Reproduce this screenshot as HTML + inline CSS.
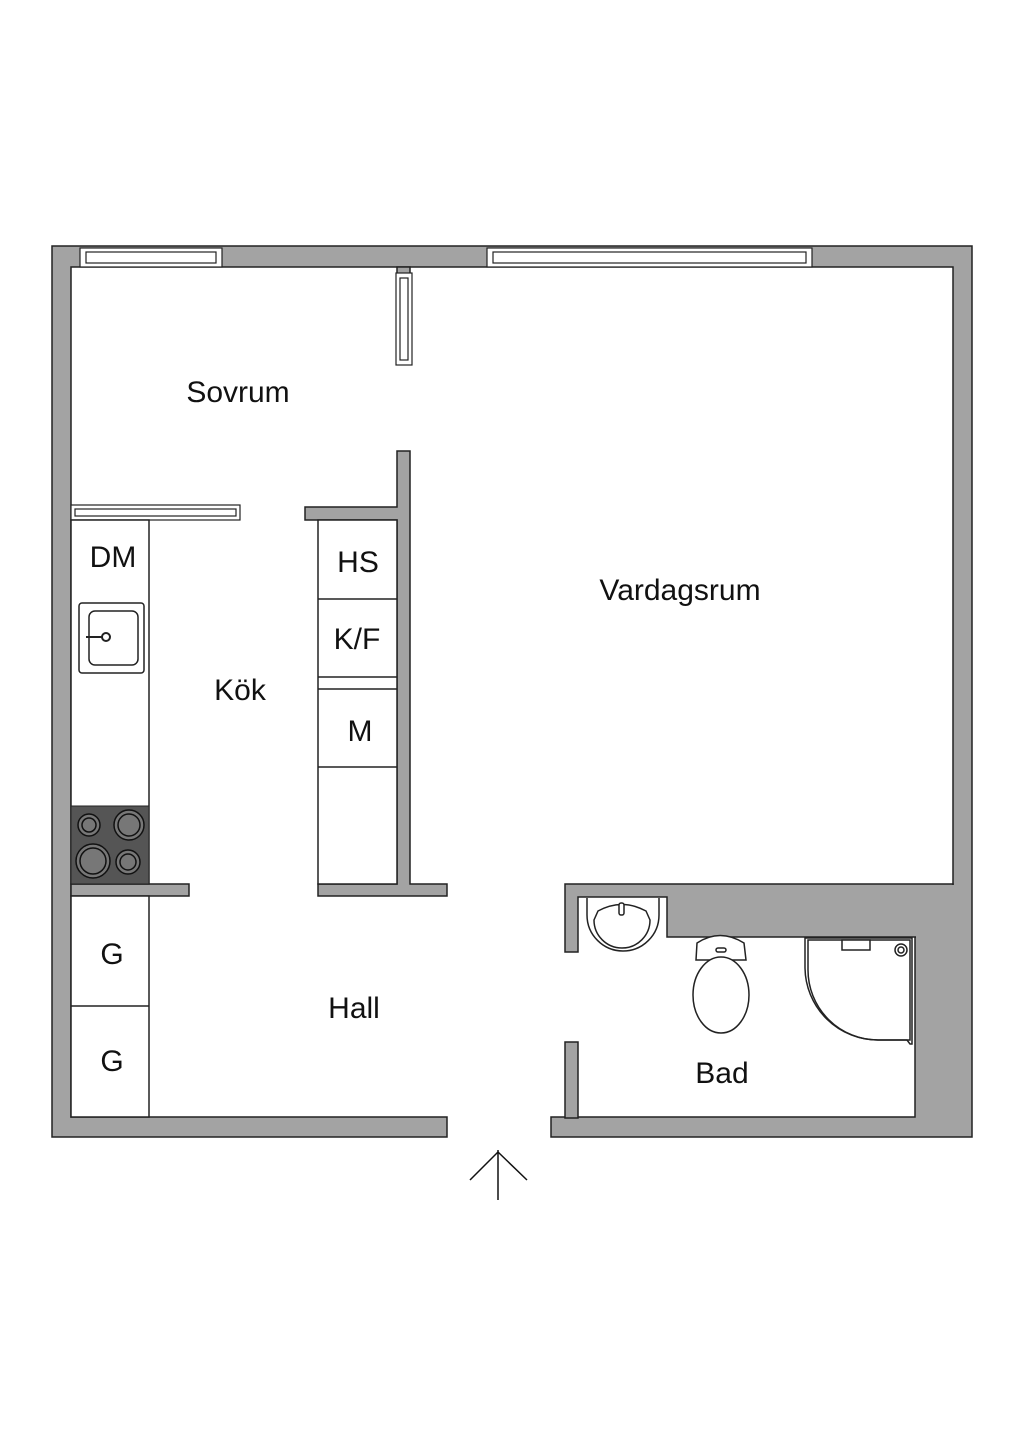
<!DOCTYPE html>
<html><head><meta charset="utf-8"><style>
html,body{margin:0;padding:0;background:#fff;}
svg{display:block;}
text{font-family:"Liberation Sans",sans-serif;fill:#111;}
</style></head><body>
<svg width="1024" height="1448" viewBox="0 0 1024 1448" xmlns="http://www.w3.org/2000/svg">
<g fill="#a3a3a3" stroke="#222" stroke-width="1.5">
<path d="M52 246 H972 V1137 H551 V1117 H915 V937 H953 V267 H71 V1117 H447 V1137 H52 Z"/>
<path d="M565 884 H953 V937 H667 V897 H578 V952 H565 Z"/>
<rect x="565" y="1042" width="13" height="76"/>
<path d="M397 451 H410 V884 H447 V896 H318 V884 H397 V520 H305 V507 H397 Z"/>
<rect x="397" y="267" width="13" height="8"/>
<rect x="71" y="884" width="118" height="12"/>
</g>
<rect x="916" y="885" width="55" height="53" fill="#a3a3a3"/>
<g fill="#fff" stroke="#222" stroke-width="1.2">
<rect x="80" y="248" width="142" height="19"/>
<rect x="86" y="252" width="130" height="11"/>
<rect x="487" y="248" width="325" height="19"/>
<rect x="493" y="252" width="313" height="11"/>
<rect x="396" y="273" width="16" height="92"/>
<rect x="400" y="278" width="8" height="82"/>
<rect x="71" y="505" width="169" height="15"/>
<rect x="75" y="509" width="161" height="7"/>
</g>
<g fill="#fff" stroke="#222" stroke-width="1.5">
<rect x="71" y="520" width="78" height="364"/>
<rect x="318" y="520" width="79" height="364"/>
<line x1="318" y1="599" x2="397" y2="599"/>
<line x1="318" y1="677" x2="397" y2="677"/>
<line x1="318" y1="689" x2="397" y2="689"/>
<line x1="318" y1="767" x2="397" y2="767"/>
<rect x="79" y="603" width="65" height="70" rx="3"/>
<rect x="89" y="611" width="49" height="54" rx="6"/>
<circle cx="106" cy="637" r="4" stroke-width="2"/>
<line x1="86" y1="637" x2="102" y2="637" stroke-width="2"/>
<rect x="71" y="896" width="78" height="221"/>
<line x1="71" y1="1006" x2="149" y2="1006"/>
</g>
<rect x="71" y="806" width="78" height="78" fill="#555" stroke="#222"/>
<g fill="#777" stroke="#111" stroke-width="1.5">
<circle cx="89" cy="825" r="11"/><circle cx="89" cy="825" r="7"/>
<circle cx="129" cy="825" r="15"/><circle cx="129" cy="825" r="11"/>
<circle cx="93" cy="861" r="17"/><circle cx="93" cy="861" r="13"/>
<circle cx="128" cy="862" r="12"/><circle cx="128" cy="862" r="8"/>
</g>
<g fill="#fff" stroke="#222" stroke-width="1.5">
<path d="M587 898 V915 A36 36 0 0 0 659 915 V898"/>
<path d="M598 911 Q622 898 646 911 L650 920 A28 28 0 0 1 594 920 Z"/>
<rect x="619" y="903" width="5" height="12" rx="2"/>
<path d="M697 943 Q720 928 744 943 L746 960 H696 Z"/>
<ellipse cx="721" cy="995" rx="28" ry="38"/>
<rect x="716" y="948" width="10" height="4" rx="2"/>
<path d="M805 938 H912 V1044 H910 L907 1040 H878 A73 73 0 0 1 805 968 Z" fill="none"/>
<path d="M808 940 H910 V1040 H878 A70 70 0 0 1 808 970 Z" fill="none"/>
<rect x="842" y="940" width="28" height="10"/>
<circle cx="901" cy="950" r="6"/><circle cx="901" cy="950" r="3"/>
</g>
<g stroke="#111" stroke-width="1.5" fill="none">
<line x1="498" y1="1150" x2="498" y2="1200"/>
<polyline points="470,1180 498,1152 527,1180"/>
</g>
<g font-size="30">
<text x="238" y="402" text-anchor="middle">Sovrum</text>
<text x="680" y="600" text-anchor="middle">Vardagsrum</text>
<text x="240" y="700" text-anchor="middle">Kök</text>
<text x="354" y="1018" text-anchor="middle">Hall</text>
<text x="722" y="1083" text-anchor="middle">Bad</text>
<text x="113" y="567" text-anchor="middle">DM</text>
<text x="358" y="572" text-anchor="middle">HS</text>
<text x="357" y="649" text-anchor="middle">K/F</text>
<text x="360" y="741" text-anchor="middle">M</text>
<text x="112" y="964" text-anchor="middle">G</text>
<text x="112" y="1071" text-anchor="middle">G</text>
</g>
</svg>
</body></html>
